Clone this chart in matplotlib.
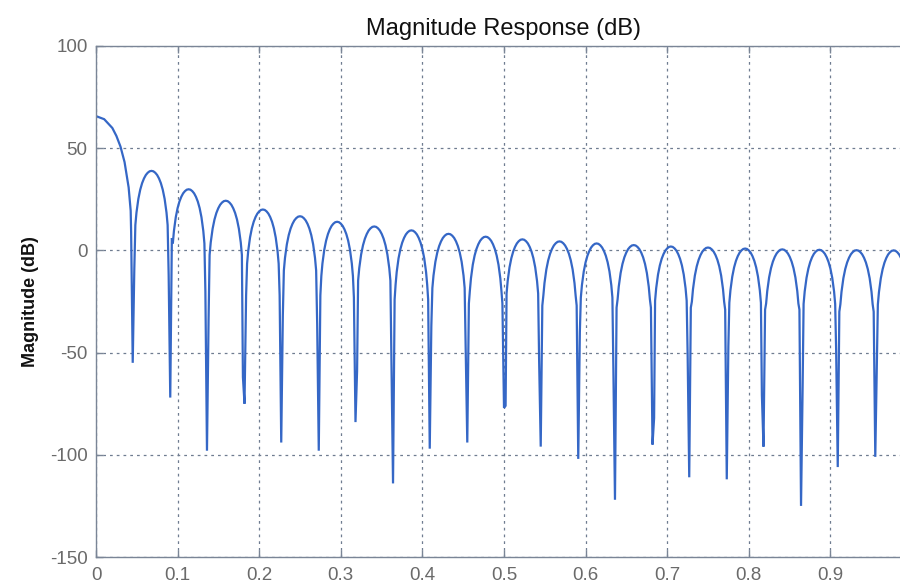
import matplotlib
matplotlib.use("Agg")
import matplotlib.pyplot as plt

# ---- data ----
# main lobe (frequency, dB) from DC to just before the first null
main_lobe_freq = [0.0, 0.01, 0.02, 0.025, 0.03, 0.035, 0.04, 0.0425]
main_lobe_db = [65.7, 64.2, 59.9, 56.0, 50.8, 43.2, 30.8, 19.4]

# nulls: positions, deepest sample, and the two samples beside each null
null_freq = [0.045, 0.091, 0.136, 0.182, 0.227, 0.273, 0.318, 0.364, 0.409, 0.455,
             0.500, 0.545, 0.591, 0.636, 0.682, 0.727, 0.773, 0.818, 0.864, 0.909, 0.955]
null_depth = [-55, -72, -98, -75, -94, -98, -84, -114, -97, -94,
              -77, -96, -102, -122, -95, -111, -112, -96, -125, -106, -101]
null_side_deep = [-9, -12, -34, -62, -32, -36, -59, -55, -37, -48,
                  -76, -54, -40, -58, -82, -51, -47, -71, -67, -49, -53]
null_side_shallow = [9, 6, -20, -22, -22, -22, -23, -24, -24, -26,
                     -26, -27, -27, -28, -28, -28, -29, -29, -29, -30, -30]

# side-lobe peak levels (dB), one per lobe after each null
lobe_peak_db = [38.9, 29.9, 24.3, 20.0, 16.7, 14.0, 11.7, 9.8, 8.1, 6.7,
                5.4, 4.4, 3.4, 2.6, 1.9, 1.4, 0.9, 0.5, 0.3, 0.1, 0.0]

# shape of one side lobe: fraction across the lobe and level below its peak (dB)
lobe_u = [0.07, 0.10, 0.15, 0.20, 0.25, 0.30, 0.35, 0.40, 0.45, 0.50,
          0.55, 0.60, 0.65, 0.70, 0.75, 0.80, 0.85, 0.90, 0.93]
lobe_rel_db = [-26.5, -20.4, -13.7, -9.2, -6.0, -3.7, -2.0, -0.9, -0.2, 0.0,
               -0.2, -0.9, -2.0, -3.7, -6.0, -9.2, -13.7, -20.4, -26.5]

freq_step = 1.0 / 512          # frequency grid spacing of the response
tail_freq, tail_db = 0.999, -34.0

x_ticks = [0, 0.1, 0.2, 0.3, 0.4, 0.5, 0.6, 0.7, 0.8, 0.9]
x_tick_labels = ["0", "0.1", "0.2", "0.3", "0.4", "0.5", "0.6", "0.7", "0.8", "0.9"]
y_ticks = [-150, -100, -50, 0, 50, 100]
y_tick_labels = ["-150", "-100", "-50", "0", "50", "100"]

# ---- assemble the response curve ----
f = list(main_lobe_freq)
m = list(main_lobe_db)
for k, fn in enumerate(null_freq):
    if k % 2 == 0:
        left, right = null_side_shallow[k], null_side_deep[k]
    else:
        left, right = null_side_deep[k], null_side_shallow[k]
    f += [fn - freq_step, fn, fn + freq_step]
    m += [left, null_depth[k], right]
    nxt = null_freq[k + 1] if k + 1 < len(null_freq) else 1.0
    width = nxt - fn
    for u, r in zip(lobe_u, lobe_rel_db):
        f.append(fn + u * width)
        m.append(lobe_peak_db[k] + r)
f.append(tail_freq)
m.append(tail_db)

# ---- figure ----
plt.rcParams["font.family"] = ["Liberation Sans", "DejaVu Sans"]
plt.rcParams["axes.unicode_minus"] = False

W, H = 900, 586
fig = plt.figure(figsize=(W / 100, H / 100), dpi=100)
ax = fig.add_axes([96 / W, 29 / H, (912 - 96) / W, (557 - 46) / H])

ax.plot(f, m, color="#3567c6", linewidth=1.6, solid_joinstyle="miter")

ax.set_xlim(0, 1)
ax.set_ylim(-150, 100)
ax.set_xticks(x_ticks)
ax.set_xticklabels(x_tick_labels)
ax.set_yticks(y_ticks)
ax.set_yticklabels(y_tick_labels)

grid_color = "#6f7c90"
ax.grid(True, color=grid_color, linestyle=(0, (2.2, 3.2)), linewidth=0.9)
for s in ax.spines.values():
    s.set_color("#7a8596")
    s.set_linewidth(1.0)

ax.tick_params(axis="both", direction="in", length=5, width=1.0,
               color="#7a8596", labelcolor="#6a6a6a", labelsize=13.5,
               top=True, right=True)
ax.tick_params(axis="x", pad=7)
ax.tick_params(axis="y", pad=6)

ax.set_title("Magnitude Response (dB)", fontsize=17, color="#111111", pad=8)
ax.set_ylabel("Magnitude (dB)", fontsize=13, fontweight="bold",
              color="#111111", labelpad=8)

fig.savefig("out.png", dpi=100)
